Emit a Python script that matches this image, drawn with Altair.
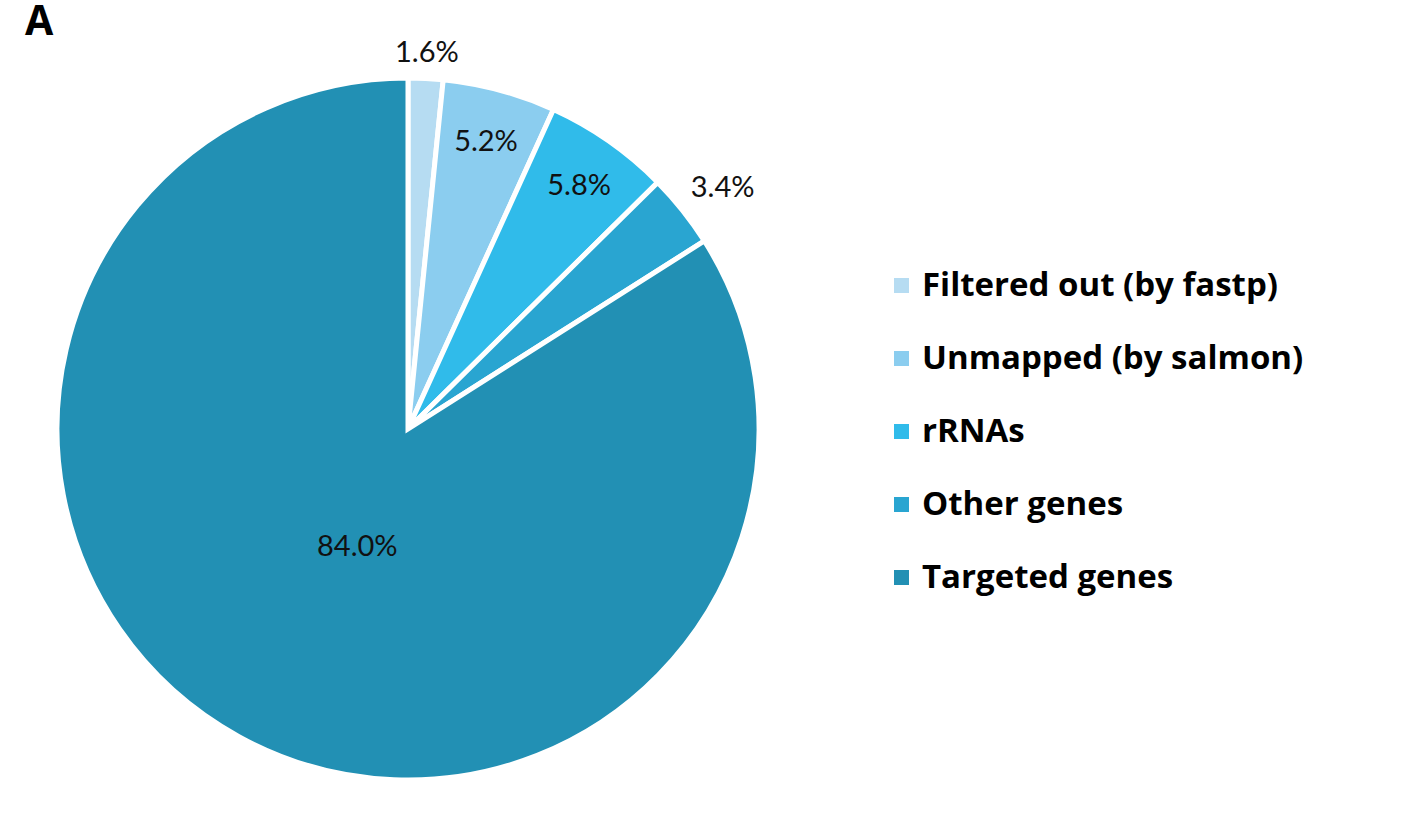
import altair as alt
import pandas as pd

categories = ["Filtered out (by fastp)", "Unmapped (by salmon)", "rRNAs", "Other genes", "Targeted genes"]
values = [1.6, 5.2, 5.8, 3.4, 84.0]
labels = ["1.6%", "5.2%", "5.8%", "3.4%", "84.0%"]
colors = ["#B6DCF2", "#8BCDEF", "#30BBEA", "#29A5D1", "#2290B4"]

df = pd.DataFrame({"category": categories, "value": values, "label": labels,
                   "order": list(range(len(categories)))})

LFONT = "Open Sans"
TFONT = "Lato"
CX, CY, R = 408, 429, 351

color = alt.Color(
    "category:N",
    scale=alt.Scale(domain=categories, range=colors),
    sort=categories,
    legend=alt.Legend(
        title=None, orient="none", legendX=885, legendY=269,
        symbolType="square", symbolSize=225, symbolStrokeWidth=0,
        labelFontSize=33, labelFontWeight="bold", labelFont=LFONT, labelColor="black",
        rowPadding=39, labelOffset=4, labelLimit=600,
    ),
)

arcs = alt.Chart(df).mark_arc(radius=R, x=CX, y=CY, stroke="white", strokeWidth=5).encode(
    theta=alt.Theta("value:Q", stack=True),
    order=alt.Order("order:Q"),
    color=color,
)

cum = alt.Chart(df).transform_window(
    cum="sum(value)", sort=[alt.SortField("order")]
).transform_calculate(mid="datum.cum - datum.value / 2")

theta_mid = alt.Theta("mid:Q", scale=alt.Scale(domain=[0, 100], range=[0, 6.283185307]))

def lab(names, radius, dx=0, dy=0):
    return cum.transform_filter(
        alt.FieldOneOfPredicate(field="category", oneOf=names)
    ).mark_text(radius=radius, x=CX, y=CY, dx=dx, dy=dy, fontSize=29, font=TFONT,
                fontWeight="normal", color="#111111").encode(theta=theta_mid, text="label:N")

inside = lab(["Unmapped (by salmon)", "rRNAs"], 299, dy=2)
out1 = lab(["Filtered out (by fastp)"], 376)
out2 = lab(["Other genes"], 397, dx=4, dy=6)
center = lab(["Targeted genes"], 128, dx=11, dy=6)

title = alt.Chart(pd.DataFrame({"t": ["A"]})).mark_text(
    fontSize=41, fontWeight="bold", font=LFONT, color="black", align="left", baseline="alphabetic"
).encode(x=alt.value(25), y=alt.value(35), text="t:N")

chart = alt.layer(arcs, inside, out1, out2, center, title).resolve_scale(
    theta="independent"
).properties(
    width=1410, height=838, padding=0, autosize="none"
).configure_view(stroke=None)

chart.save("out.html", embed_options={"renderer": "svg", "actions": False})
